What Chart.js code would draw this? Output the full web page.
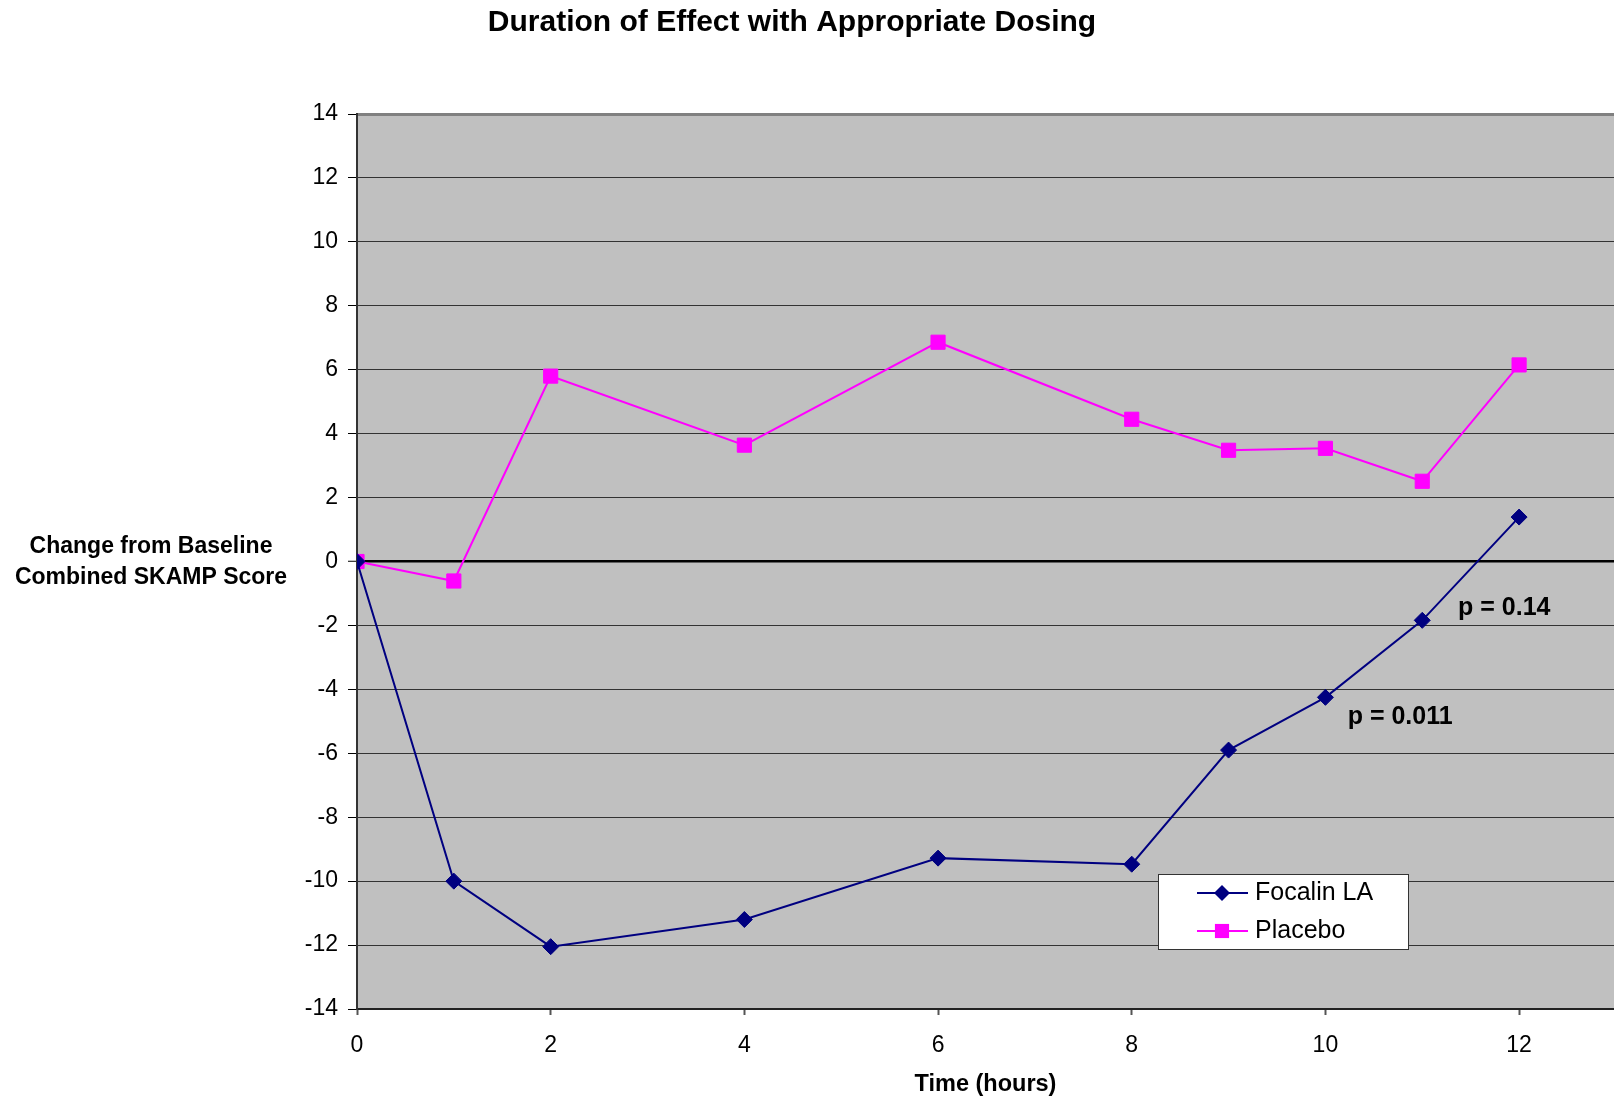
<!DOCTYPE html>
<html>
<head>
<meta charset="utf-8">
<title>Duration of Effect with Appropriate Dosing</title>
<script src="https://cdn.jsdelivr.net/npm/chart.js@4.4.1/dist/chart.umd.min.js"></script>
<style>
    html, body { margin: 0; padding: 0; background: #fff; }
    #wrap { width: 1614px; height: 1102px; }
</style>
</head>
<body>
<div id="wrap"><canvas id="chart" width="1614" height="1102"></canvas></div>
<script>
// values
const hours = [0, 1, 2, 4, 6, 8, 9, 10, 11, 12];
const focalin = [0, -10.0, -12.05, -11.2, -9.28, -9.47, -5.9, -4.25, -1.84, 1.39];
const placebo = [0, -0.61, 5.8, 3.64, 6.86, 4.45, 3.48, 3.54, 2.51, 6.15];
const yTicks = [-14, -12, -10, -8, -6, -4, -2, 0, 2, 4, 6, 8, 10, 12, 14];
const xTicks = [0, 2, 4, 6, 8, 10, 12];
const pLabels = ['p = 0.14', 'p = 0.011'];

const FONT = '"Liberation Sans", Arial, sans-serif';

function points(ys) {
    return hours.map((h, i) => ({ x: h, y: ys[i] }));
}

// grey plot area
const plotBackground = {
    id: 'plotBackground',
    beforeDraw(chart) {
        const { ctx, chartArea: a } = chart;
        ctx.save();
        ctx.fillStyle = '#C0C0C0';
        ctx.fillRect(a.left, a.top, a.right - a.left, a.bottom - a.top);
        ctx.restore();
    }
};

// title, horizontal y label, p values and the boxed legend
const extras = {
    id: 'extras',
    afterDraw(chart) {
        const { ctx, scales } = chart;
        const x = scales.x, y = scales.y;
        ctx.save();
        ctx.fillStyle = '#000';

        ctx.font = 'bold 30px ' + FONT;
        ctx.textAlign = 'center';
        ctx.textBaseline = 'middle';
        ctx.fillText('Duration of Effect with Appropriate Dosing', 792, 23);

        ctx.font = 'bold 23px ' + FONT;
        ctx.fillText('Change from Baseline', 151, 547);
        ctx.fillText('Combined SKAMP Score', 151, 578);

        ctx.font = 'bold 25px ' + FONT;
        ctx.textAlign = 'left';
        ctx.fillText(pLabels[0], x.getPixelForValue(11.37), y.getPixelForValue(-1.45));
        ctx.fillText(pLabels[1], x.getPixelForValue(10.23), y.getPixelForValue(-4.88));

        // legend
        const bx = 1158, by = 874, bw = 250, bh = 75;
        ctx.fillStyle = '#fff';
        ctx.fillRect(bx, by, bw, bh);
        ctx.strokeStyle = '#333';
        ctx.lineWidth = 1;
        ctx.strokeRect(bx + 0.5, by + 0.5, bw, bh);

        const rows = [893, 931];
        chart.data.datasets.forEach((ds, i) => {
            const ry = rows[i];
            ctx.strokeStyle = ds.borderColor;
            ctx.lineWidth = ds.borderWidth;
            ctx.beginPath();
            ctx.moveTo(1197, ry);
            ctx.lineTo(1248, ry);
            ctx.stroke();
            ctx.fillStyle = ds.pointBackgroundColor;
            ctx.strokeStyle = ds.pointBorderColor;
            ctx.lineWidth = 1;
            Chart.helpers.drawPoint(ctx, { pointStyle: ds.pointStyle, radius: ds.pointRadius, rotation: 0 }, 1222, ry);
            ctx.fillStyle = '#000';
            ctx.font = '25px ' + FONT;
            ctx.textAlign = 'left';
            ctx.textBaseline = 'middle';
            ctx.fillText(ds.label, 1255, ry);
        });
        ctx.restore();
    }
};

new Chart(document.getElementById('chart'), {
    type: 'line',
    data: {
        datasets: [
            {
                label: 'Focalin LA',
                data: points(focalin),
                borderColor: '#000080',
                borderWidth: 2,
                pointStyle: 'rectRot',
                pointRadius: 8,
                pointBackgroundColor: '#000080',
                pointBorderColor: '#000080',
                pointBorderWidth: 1,
                tension: 0
            },
            {
                label: 'Placebo',
                data: points(placebo),
                borderColor: '#FF00FF',
                borderWidth: 2,
                pointStyle: 'rect',
                pointRadius: 10,
                pointBackgroundColor: '#FF00FF',
                pointBorderColor: '#FF00FF',
                pointBorderWidth: 1,
                tension: 0
            }
        ]
    },
    options: {
        responsive: false,
        animation: false,
        devicePixelRatio: 1,
        layout: {
            autoPadding: false,
            padding: { top: 114, left: 0, right: 0, bottom: 0 }
        },
        plugins: {
            legend: { display: false },
            title: { display: false },
            tooltip: { enabled: false }
        },
        scales: {
            x: {
                type: 'linear',
                min: 0,
                max: 12.98,
                afterFit(scale) { scale.height = 93; },
                afterBuildTicks(scale) { scale.ticks = xTicks.map(v => ({ value: v })); },
                ticks: {
                    includeBounds: false,
                    color: '#000',
                    padding: 17,
                    font: { family: FONT, size: 23 }
                },
                grid: {
                    drawOnChartArea: false,
                    drawTicks: true,
                    tickLength: 6,
                    tickColor: '#555',
                    tickWidth: 2
                },
                border: { display: true, color: '#222', width: 2 },
                title: {
                    display: true,
                    text: 'Time (hours)',
                    color: '#000',
                    font: { family: FONT, size: 23.5, weight: 'bold' },
                    padding: { top: 0, bottom: 3 }
                }
            },
            y: {
                min: -14,
                max: 14,
                afterFit(scale) { scale.width = 357; },
                afterBuildTicks(scale) { scale.ticks = yTicks.map(v => ({ value: v })); },
                ticks: {
                    color: '#000',
                    padding: 10,
                    font: { family: FONT, size: 23 }
                },
                grid: {
                    color: ctx => ctx.tick && ctx.tick.value === 14 ? '#808080' : (ctx.tick && ctx.tick.value === 0 ? '#000' : '#333'),
                    lineWidth: ctx => ctx.tick && ctx.tick.value === 14 ? 3 : (ctx.tick && ctx.tick.value === 0 ? 2.5 : 1),
                    tickColor: '#000',
                    tickLength: 9,
                    tickWidth: 1
                },
                border: { display: true, color: '#333', width: 2 }
            }
        }
    },
    plugins: [plotBackground, extras]
});
</script>
</body>
</html>
